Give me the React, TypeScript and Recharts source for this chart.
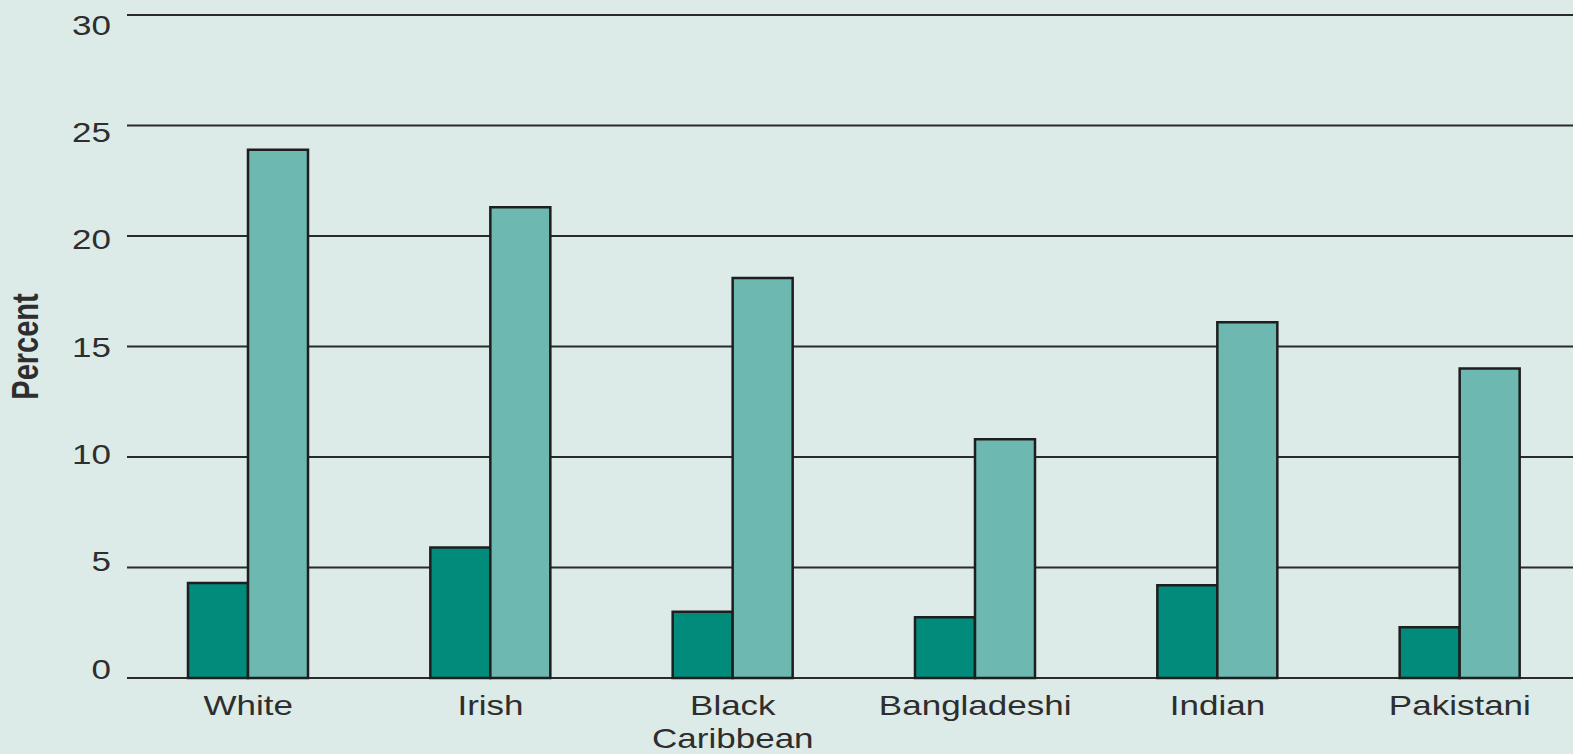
import { BarChart, Bar, XAxis, YAxis, CartesianGrid } from 'recharts';

const groups = ['White', 'Irish', 'Black Caribbean', 'Bangladeshi', 'Indian', 'Pakistani'];
const darkValues = [4.3, 5.9, 3.0, 2.75, 4.2, 2.3];
const lightValues = [23.9, 21.3, 18.1, 10.8, 16.1, 14.0];
const yTicks = [0, 5, 10, 15, 20, 25, 30];

const data = groups.map((group, i) => ({
  group,
  dark: darkValues[i],
  light: lightValues[i],
}));

const TEXT = '#2e2e2e';
const FONT = '"Liberation Sans", Arial, Helvetica, sans-serif';
const STRETCH = 1.25;

function YTick({ x, y, payload }: any) {
  // labels in the original sit slightly closer together than the grid lines
  const shift = (payload.value - 15) * 0.63;
  return (
    <g transform={`translate(${x},${y + shift}) scale(${STRETCH},1)`}>
      <text x={0} y={0} dy="0.36em" textAnchor="end" fill={TEXT} fontSize={28} fontFamily={FONT}>
        {payload.value}
      </text>
    </g>
  );
}

function XTick({ x, y, payload }: any) {
  const lines = String(payload.value).split(' ');
  return (
    <g transform={`translate(${x},${y}) scale(${STRETCH},1)`}>
      {lines.map((line, i) => (
        <text key={i} x={0} y={37 + i * 33} textAnchor="middle" fill={TEXT} fontSize={28} fontFamily={FONT}>
          {line}
        </text>
      ))}
    </g>
  );
}

function PercentLabel({ viewBox }: any) {
  const cy = viewBox.y + viewBox.height / 2;
  return (
    <g transform={`translate(25,${cy}) rotate(-90) scale(1,${STRETCH})`}>
      <text x={0} y={0} dy="0.36em" textAnchor="middle" fill={TEXT} fontSize={29} fontWeight="bold" fontFamily={FONT}>
        Percent
      </text>
    </g>
  );
}

export default function App() {
  return (
    <div
      style={{
        position: 'absolute',
        left: 0,
        top: 0,
        width: 1573,
        height: 754,
        overflow: 'hidden',
        background: '#dcebe8',
      }}
    >
      <BarChart
        width={1581}
        height={754}
        data={data}
        margin={{ top: 15, right: 0, bottom: 0, left: 0 }}
        barGap={0}
      >
        <CartesianGrid vertical={false} stroke="#2a2a2a" strokeWidth={2.2} />
        <XAxis
          dataKey="group"
          height={76}
          axisLine={false}
          tickLine={false}
          tickSize={0}
          tickMargin={0}
          interval={0}
          tick={<XTick />}
        />
        <YAxis
          width={127}
          domain={[0, 30]}
          ticks={yTicks}
          axisLine={false}
          tickLine={false}
          tickSize={0}
          tickMargin={16}
          tick={<YTick />}
          label={<PercentLabel />}
        />
        <Bar dataKey="dark" fill="#008b7b" stroke="#1e1e1e" strokeWidth={2.5} barSize={60} isAnimationActive={false} />
        <Bar dataKey="light" fill="#6db8b0" stroke="#1e1e1e" strokeWidth={2.5} barSize={60} isAnimationActive={false} />
      </BarChart>
    </div>
  );
}
